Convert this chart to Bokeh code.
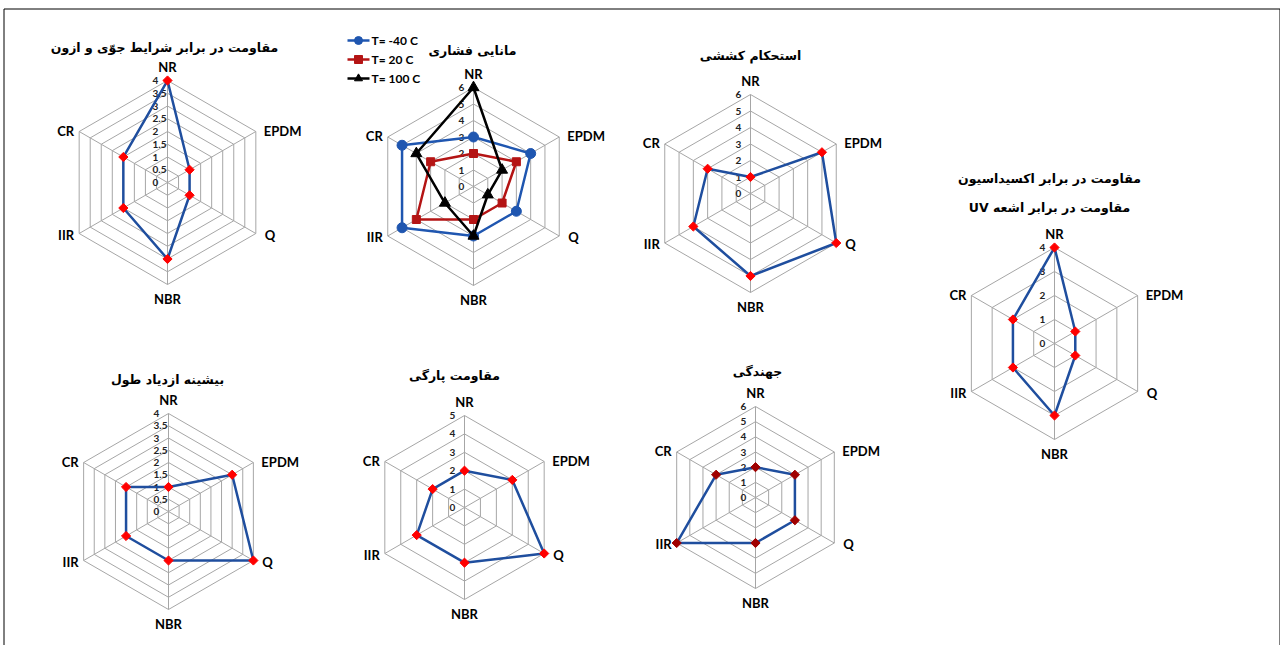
import numpy as np
from bokeh.plotting import figure
from bokeh.models import Range1d
from bokeh.core.properties import value
from bokeh.embed import file_html
from bokeh.resources import INLINE

# ---------------- data ----------------
axis_labels = ["NR", "EPDM", "Q", "NBR", "IIR", "CR"]

weather_ozone = [4, 1, 1, 3, 2, 2]
comp_set_m40 = [3, 4, 3, 3, 5, 5]
comp_set_20 = [2, 3, 2, 2, 4, 3]
comp_set_100 = [6, 2, 1, 3, 2, 4]
tensile = [1, 5, 6, 5, 4, 3]
oxid_uv = [4, 1, 1, 3, 2, 2]
elongation = [1, 3, 4, 2, 2, 2]
tear = [2, 3, 5, 3, 3, 2]
resilience = [2, 3, 3, 3, 6, 3]

legend_labels = ["T= -40 C", "T= 20 C", "T= 100 C"]

title_weather = "مقاومت در برابر شرایط جوّی و ازون"
title_comp = "مانایی فشاری"
title_tensile = "استحکام کششی"
title_oxid = "مقاومت در برابر اکسیداسیون"
title_uv = "\u202bمقاومت در برابر اشعه UV\u202c"
title_elong = "بیشینه ازدیاد طول"
title_tear = "مقاومت پارگی"
title_resil = "جهندگی"

ticks_half4 = ["0", "0.5", "1", "1.5", "2", "2.5", "3", "3.5", "4"]
ticks_4 = ["0", "1", "2", "3", "4"]
ticks_5 = ["0", "1", "2", "3", "4", "5"]
ticks_6 = ["0", "1", "2", "3", "4", "5", "6"]

# ---------------- styles ----------------
W, H = 1280, 645
LATIN = value("Lato")
ARAB = value("DejaVu Sans")
GRID = "#A6A6A6"
BLUE = "#1F4E9E"
RED = "#FF0000"

p = figure(width=W, height=H, output_backend="svg", toolbar_location=None,
           x_range=Range1d(0, W), y_range=Range1d(H, 0),
           min_border=0)
p.axis.visible = False
p.grid.visible = False
p.outline_line_color = None
p.background_fill_color = "white"

# frame
p.multi_line(xs=[[3.5, 3.5], [3.5, 1279.5], [1279.5, 1279.5]], ys=[[H, 8.5], [8.5, 8.5], [8.5, H]],
             line_color="black", line_width=1)

ang = np.deg2rad(90 - 60 * np.arange(6))


def pts(cx, cy, r_arr):
    r_arr = np.asarray(r_arr, dtype=float)
    return cx + r_arr * np.cos(ang), cy - r_arr * np.sin(ang)


def radar_frame(cx, cy, R, ticks):
    vmax = float(ticks[-1])
    n = len(ticks) - 1
    xs, ys = [], []
    for k in range(1, n + 1):
        x, y = pts(cx, cy, np.full(6, R * k / n))
        xs.append(list(x) + [x[0]])
        ys.append(list(y) + [y[0]])
    p.multi_line(xs=xs, ys=ys, line_color=GRID, line_width=1)
    vx, vy = pts(cx, cy, np.full(6, R))
    p.multi_line(xs=[[cx, vx[i]] for i in range(6)], ys=[[cy, vy[i]] for i in range(6)],
                 line_color=GRID, line_width=1)
    tv = [float(t) for t in ticks]
    p.text(x=[cx - 15] * len(ticks), y=[cy - R * t / vmax for t in tv], text=ticks,
           text_font=LATIN, text_font_style="bold", text_font_size="10px",
           text_align="left", text_baseline="middle", text_color="#222222")
    p.text(x=[vx[0]], y=[vy[0] - 6], text=[axis_labels[0]], text_font=LATIN,
           text_font_style="bold", text_font_size="13px", text_align="center",
           text_baseline="bottom", text_color="black")
    p.text(x=[vx[3]], y=[vy[3] + 6], text=[axis_labels[3]], text_font=LATIN,
           text_font_style="bold", text_font_size="13px", text_align="center",
           text_baseline="top", text_color="black")
    p.text(x=[vx[1] + 8, vx[2] + 9], y=[vy[1] - 1, vy[2] + 1], text=[axis_labels[1], axis_labels[2]],
           text_font=LATIN, text_font_style="bold", text_font_size="13px",
           text_align="left", text_baseline="middle", text_color="black")
    p.text(x=[vx[4] - 5, vx[5] - 5], y=[vy[4] + 1, vy[5] - 1], text=[axis_labels[4], axis_labels[5]],
           text_font=LATIN, text_font_style="bold", text_font_size="13px",
           text_align="right", text_baseline="middle", text_color="black")
    return vmax


def series(cx, cy, R, vmax, vals, color, marker, mcolor, msize, angle=0.0):
    x, y = pts(cx, cy, np.asarray(vals, dtype=float) * R / vmax)
    p.line(list(x) + [x[0]], list(y) + [y[0]], line_color=color, line_width=2.5)
    p.scatter(x, y, marker=marker, size=msize, angle=angle,
              fill_color=mcolor, line_color=mcolor)


def title(x, y, txt):
    p.text(x=[x], y=[y], text=[txt], text_font=ARAB, text_font_style="bold",
           text_font_size="12.5px", text_align="center", text_baseline="middle",
           text_color="black")


DIA = dict(marker="square", msize=6.5, angle=np.pi / 4)

# chart 1: weather & ozone
cx, cy, R = 167, 182, 102
vm = radar_frame(cx, cy, R, ticks_half4)
series(cx, cy, R, vm, weather_ozone, BLUE, mcolor=RED, **DIA)
title(164, 47, title_weather)

# chart 2: compression set
cx, cy, R = 473, 186, 99
vm = radar_frame(cx, cy, R, ticks_6)
series(cx, cy, R, vm, comp_set_m40, "#1F56B0", "circle", "#1F56B0", 10)
series(cx, cy, R, vm, comp_set_20, "#B41414", "square", "#B41414", 8)
series(cx, cy, R, vm, comp_set_100, "black", "triangle", "black", 11)
title(472, 50, title_comp)
leg_colors = ["#1F56B0", "#B41414", "black"]
leg_markers = ["circle", "square", "triangle"]
leg_y = [40, 59, 78]
for lbl, c, m, ly in zip(legend_labels, leg_colors, leg_markers, leg_y):
    p.line([347, 369], [ly, ly], line_color=c, line_width=2.5)
    p.scatter([358], [ly], marker=m, size=8, fill_color=c, line_color=c)
    p.text(x=[371], y=[ly], text=[lbl], text_font=LATIN, text_font_style="bold",
           text_font_size="12px", text_align="left", text_baseline="middle",
           text_color="black")

# chart 3: tensile
cx, cy, R = 750, 193, 99
vm = radar_frame(cx, cy, R, ticks_6)
series(cx, cy, R, vm, tensile, BLUE, mcolor=RED, **DIA)
title(750, 55, title_tensile)

# chart 4: oxidation / UV
cx, cy, R = 1054, 343, 96
vm = radar_frame(cx, cy, R, ticks_4)
series(cx, cy, R, vm, oxid_uv, BLUE, mcolor=RED, **DIA)
title(1049, 178, title_oxid)
title(1049, 207, title_uv)

# chart 5: elongation
cx, cy, R = 168, 511, 98
vm = radar_frame(cx, cy, R, ticks_half4)
series(cx, cy, R, vm, elongation, BLUE, mcolor=RED, **DIA)
title(167, 379, title_elong)

# chart 6: tear
cx, cy, R = 464, 507, 92
vm = radar_frame(cx, cy, R, ticks_5)
series(cx, cy, R, vm, tear, BLUE, mcolor=RED, **DIA)
title(454, 375, title_tear)

# chart 7: resilience
cx, cy, R = 755, 497, 91
vm = radar_frame(cx, cy, R, ticks_6)
series(cx, cy, R, vm, resilience, BLUE, mcolor="#A00000", **DIA)
title(757, 371, title_resil)

open("out.html", "w").write(file_html(p, INLINE))
